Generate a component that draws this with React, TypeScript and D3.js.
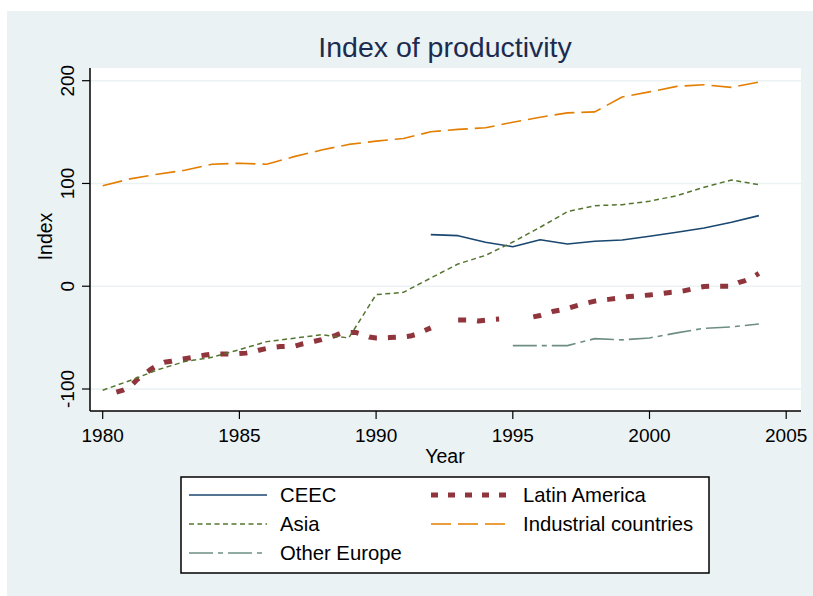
import React from 'react';
import * as d3 from 'd3';

const TITLE = 'Index of productivity';
const X_LABEL = 'Year';
const Y_LABEL = 'Index';
const xTicks = [1980, 1985, 1990, 1995, 2000, 2005];
const yTicks = [-100, 0, 100, 200];

const years = [1980, 1981, 1982, 1983, 1984, 1985, 1986, 1987, 1988, 1989, 1990, 1991, 1992,
  1993, 1994, 1995, 1996, 1997, 1998, 1999, 2000, 2001, 2002, 2003, 2004];
const industrial = [97.7, 104.5, 109, 112.9, 118.7, 119.7, 118.7, 126.1, 132.5, 138, 141.2, 143.8, 150.3,
  152.6, 154.2, 159.6, 164.5, 168.7, 169.7, 184.2, 189.1, 194.5, 196.1, 193.5, 198.7];
const asia = [-101.2, -91.8, -81.4, -73.3, -69.1, -61.7, -53.9, -50.6, -47.2, -50.3, -8.2, -5.9, 8,
  21.7, 30, 43, 57.4, 72.6, 78.4, 79.4, 82.7, 88.1, 96.3, 103.4, 98.8];

const ceecYears = [1992, 1993, 1994, 1995, 1996, 1997, 1998, 1999, 2000, 2001, 2002, 2003, 2004];
const ceec = [50.2, 49.2, 42.8, 38.5, 45.3, 41.1, 43.8, 45, 48.6, 52.5, 56.7, 62.3, 68.7];

const otherYears = [1995, 1996, 1997, 1998, 1999, 2000, 2001, 2002, 2003, 2004];
const otherEurope = [-57.8, -57.8, -57.8, -51, -52.2, -50.3, -45.4, -40.9, -39.6, -36.7];

const latYears = [1980.5, 1980.75, 1981, 1981.25, 1981.5, 1981.75, 1982, 1982.25, 1982.5, 1982.75,
  1983, 1983.25, 1983.5, 1983.75, 1984, 1984.25, 1984.5, 1984.75, 1985, 1985.25, 1985.5, 1985.75,
  1986, 1986.25, 1986.5, 1986.75, 1987, 1987.25, 1987.5, 1987.75, 1988, 1988.25, 1988.5, 1988.75,
  1989, 1989.25, 1989.5, 1989.75, 1990, 1990.25, 1990.5, 1990.75, 1991, 1991.25, 1991.5, 1991.75,
  1992, 1992.5, 1993, 1993.25, 1993.5, 1993.75, 1994, 1994.25, 1994.5, 1995, 1995.75,
  1996, 1996.25, 1996.5, 1996.75, 1997, 1997.25, 1997.5, 1997.75, 1998, 1998.25, 1998.5, 1998.75,
  1999, 1999.25, 1999.5, 1999.75, 2000, 2000.25, 2000.5, 2000.75, 2001, 2001.25, 2001.5, 2001.75,
  2002, 2002.25, 2002.5, 2002.75, 2003, 2003.25, 2003.5, 2003.75, 2004];
const latinAmerica: (number | null)[] = [-103, -101, -98, -91, -86, -81, -77, -74, -73, -71.5,
  -70.5, -69.5, -68, -67, -66, -66, -66, -66, -65.5, -65, -64, -62,
  -60.5, -59.5, -58.7, -58.5, -58.4, -56.5, -55, -53.5, -52, -50, -48, -45.4,
  -45, -45, -47, -49.5, -50.3, -50.3, -50, -49.7, -49.3, -48.5, -46.5, -43.5,
  -40.5, null, -32.8, -32.8, -32.8, -33.8, -33, -32.3, -31.8, null, -29.8,
  -28.5, -26.5, -24.3, -23.2, -21.5, -19.5, -17.6, -16, -14.5, -13.5, -12.8, -12,
  -11.2, -10, -9.5, -9.1, -8.5, -7.8, -6.8, -6, -5.5, -4.5, -3, -1.5,
  -0.3, 0, 0, 0, 0, 3.5, 5.5, 8.5, 12.5];

const FONT = '"Liberation Sans", Arial, Helvetica, sans-serif';
const BG = '#EAF2F3';

type Series = { name: string; xs: number[]; ys: (number | null)[]; color: string; width: number; dash: string };

const series: Series[] = [
  { name: 'CEEC', xs: ceecYears, ys: ceec, color: '#1A476F', width: 1.6, dash: '' },
  { name: 'Latin America', xs: latYears, ys: latinAmerica, color: '#90353B', width: 5, dash: '8,11' },
  { name: 'Asia', xs: years, ys: asia, color: '#55752F', width: 1.5, dash: '5,3.5' },
  { name: 'Industrial countries', xs: years, ys: industrial, color: '#E37E00', width: 1.6, dash: '20,7' },
  { name: 'Other Europe', xs: otherYears, ys: otherEurope, color: '#6E8E84', width: 1.6, dash: '24,5,5,5' },
];

export default function App() {
  const W = 813, H = 596;
  const plot = { left: 90, right: 801, top: 68, bottom: 411 };
  const x = d3.scaleLinear().domain([1980, 2005]).range([102.7, 786.2]);
  const y = d3.scaleLinear().domain([-100, 200]).range([389, 80.7]);

  const mkPath = (s: Series) => {
    const pts = s.xs.map((xv, i) => [xv, s.ys[i]] as [number, number | null]);
    const line = d3.line<[number, number | null]>()
      .defined(d => d[1] !== null)
      .x(d => x(d[0]))
      .y(d => y(d[1] as number));
    return line(pts) || '';
  };

  const legendItems = [
    { s: series[0], col: 0, row: 0 },
    { s: series[1], col: 1, row: 0 },
    { s: series[2], col: 0, row: 1 },
    { s: series[3], col: 1, row: 1 },
    { s: series[4], col: 0, row: 2 },
  ];
  const legCols = [{ x1: 189, x2: 267, tx: 280 }, { x1: 431, x2: 512, tx: 523 }];
  const legRows = [495, 524, 553];

  return (
    <svg width={W} height={H} style={{ position: 'absolute', left: 0, top: 0 }}>
      <rect x={0} y={0} width={W} height={H} fill="#ffffff" />
      <rect x={7} y={11} width={W - 7} height={H - 11} fill={BG} />
      <rect x={plot.left} y={plot.top} width={plot.right - plot.left} height={plot.bottom - plot.top} fill="#ffffff" />
      <text x={445} y={57} textAnchor="middle" fontFamily={FONT} fontSize={28.5} fill="#1C2B50">{TITLE}</text>
      {yTicks.map(t => (
        <line key={'g' + t} x1={plot.left} x2={plot.right} y1={y(t)} y2={y(t)} stroke={BG} strokeWidth={1.5} />
      ))}
      {series.map(s => (
        <path key={s.name} d={mkPath(s)} fill="none" stroke={s.color} strokeWidth={s.width}
          strokeDasharray={s.dash || undefined} strokeLinejoin="round" />
      ))}
      <line x1={plot.left} x2={plot.left} y1={plot.top} y2={plot.bottom} stroke="#000" strokeWidth={1.5} />
      <line x1={plot.left} x2={plot.right} y1={plot.bottom} y2={plot.bottom} stroke="#000" strokeWidth={1.5} />
      {yTicks.map(t => (
        <g key={'y' + t}>
          <line x1={plot.left - 8} x2={plot.left} y1={y(t)} y2={y(t)} stroke="#000" strokeWidth={1.2} />
          <text transform={`translate(73.5,${y(t)}) rotate(-90)`} textAnchor="middle" fontFamily={FONT}
            fontSize={19} fill="#000">{t}</text>
        </g>
      ))}
      {xTicks.map(t => (
        <g key={'x' + t}>
          <line x1={x(t)} x2={x(t)} y1={plot.bottom} y2={plot.bottom + 8} stroke="#000" strokeWidth={1.2} />
          <text x={x(t)} y={441.5} textAnchor="middle" fontFamily={FONT} fontSize={19} fill="#000">{t}</text>
        </g>
      ))}
      <text x={445} y={463} textAnchor="middle" fontFamily={FONT} fontSize={19.5} fill="#000">{X_LABEL}</text>
      <text transform={`translate(51.5,${(plot.top + plot.bottom) / 2 - 3}) rotate(-90)`} textAnchor="middle"
        fontFamily={FONT} fontSize={19.5} fill="#000">{Y_LABEL}</text>
      <rect x={181} y={477} width={528} height={96} fill="#ffffff" stroke="#000" strokeWidth={1.5} />
      {legendItems.map(({ s, col, row }) => {
        const c = legCols[col];
        const ry = legRows[row];
        return (
          <g key={'l' + s.name}>
            <line x1={c.x1} x2={c.x2} y1={ry} y2={ry} stroke={s.color} strokeWidth={s.width}
              strokeDasharray={s.name === 'Latin America' ? '7,10' : (s.dash || undefined)} />
            <text x={c.tx} y={ry + 7} fontFamily={FONT} fontSize={20.3} fill="#000">{s.name}</text>
          </g>
        );
      })}
    </svg>
  );
}
